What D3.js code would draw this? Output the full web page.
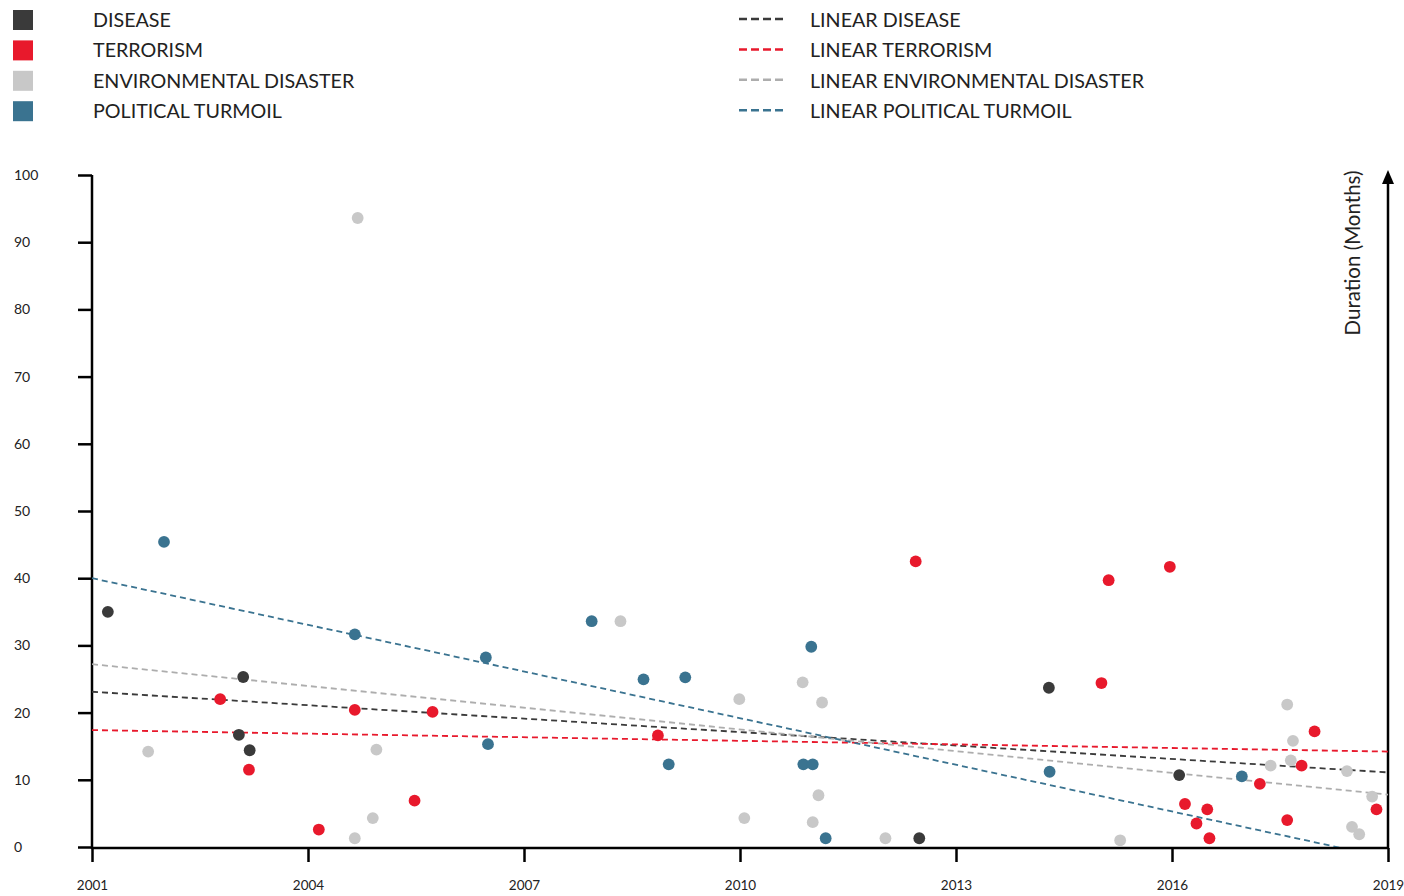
<!DOCTYPE html>
<meta charset="utf-8">
<script src="https://d3js.org/d3.v7.min.js"></script>
<style>
  body { margin: 0; background: #fff; }
  text { font-family: Lato, "Open Sans", sans-serif; }
</style>
<div id="chart"></div>
<script>

  // categories, colours
  var categories = ["DISEASE", "TERRORISM", "ENVIRONMENTAL DISASTER", "POLITICAL TURMOIL"];
  var colors = ["#3a3a3a", "#e8192c", "#c8c8c8", "#3a7390"];
  var lineColors = ["#3a3a3a", "#e8192c", "#adadad", "#3a7390"];

  // year of event (decimal) and duration in months
  var diseaseYears = [2001.22, 2003.10, 2003.04, 2003.19, 2012.49, 2014.29, 2016.10];
  var diseaseValues = [35.0, 25.3, 16.7, 14.4, 1.3, 23.7, 10.7];

  var terrorismYears = [2002.78, 2003.18, 2004.15, 2004.65, 2005.48, 2005.73, 2008.86, 2012.44, 2015.12, 2015.97,
    2015.02, 2016.18, 2016.49, 2016.34, 2016.52, 2017.22, 2017.80, 2017.98, 2017.60, 2018.84];
  var terrorismValues = [22.0, 11.5, 2.6, 20.4, 6.9, 20.1, 16.6, 42.5, 39.7, 41.7,
    24.4, 6.4, 5.6, 3.5, 1.3, 9.4, 12.1, 17.2, 4.0, 5.6];

  var environmentYears = [2001.78, 2004.95, 2004.90, 2004.65, 2004.69, 2008.34, 2009.99, 2010.06, 2010.87, 2011.14,
    2011.09, 2011.01, 2012.02, 2015.28, 2017.60, 2017.68, 2017.65, 2017.37, 2018.43, 2018.78, 2018.50, 2018.60];
  var environmentValues = [14.2, 14.5, 4.3, 1.3, 93.6, 33.6, 22.0, 4.3, 24.5, 21.5,
    7.7, 3.7, 1.3, 1.0, 21.2, 15.8, 12.9, 12.1, 11.3, 7.5, 3.0, 1.9];

  var politicalYears = [2002.00, 2004.65, 2006.47, 2006.50, 2007.94, 2008.66, 2009.24, 2009.01, 2010.99, 2010.88,
    2011.01, 2011.19, 2014.30, 2016.97];
  var politicalValues = [45.4, 31.65, 28.2, 15.3, 33.6, 24.95, 25.25, 12.3, 29.8, 12.3,
    12.3, 1.3, 11.2, 10.5];

  // linear trend lines: value at 2001 and at 2019
  var trendStart = [23.1, 17.4, 27.2, 40.0];
  var trendEnd = [11.1, 14.2, 7.8, -1.65];

  var yearTicks = [2001, 2004, 2007, 2010, 2013, 2016, 2019];
  var valueTicks = [0, 10, 20, 30, 40, 50, 60, 70, 80, 90, 100];

  var seriesYears = [diseaseYears, terrorismYears, environmentYears, politicalYears];
  var seriesValues = [diseaseValues, terrorismValues, environmentValues, politicalValues];

  var width = 1404, height = 896;
  var svg = d3.select("#chart").append("svg")
    .attr("width", width)
    .attr("height", height);

  var x = d3.scaleLinear().domain([2001, 2019]).range([92, 1388]);
  var y = d3.scaleLinear().domain([0, 100]).range([847, 175]);

  // legend - markers
  var legend1 = svg.append("g");
  categories.forEach(function (c, i) {
    legend1.append("rect")
      .attr("x", 13).attr("y", 10 + i * 30.4)
      .attr("width", 20).attr("height", 20)
      .attr("fill", colors[i]);
    legend1.append("text")
      .attr("x", 93).attr("y", 27 + i * 30.4)
      .attr("font-size", 19.7)
      .attr("fill", "#222")
      .text(c);
  });

  // legend - trend lines
  var legend2 = svg.append("g");
  categories.forEach(function (c, i) {
    legend2.append("line")
      .attr("x1", 739).attr("x2", 784)
      .attr("y1", 19 + i * 30.4).attr("y2", 19 + i * 30.4)
      .attr("stroke", lineColors[i])
      .attr("stroke-width", 2.5)
      .attr("stroke-dasharray", "8,4");
    legend2.append("text")
      .attr("x", 810).attr("y", 27 + i * 30.4)
      .attr("font-size", 19.7)
      .attr("fill", "#222")
      .text("LINEAR " + c);
  });

  // y axis
  var yAxis = svg.append("g")
    .attr("transform", "translate(92,0)")
    .call(d3.axisLeft(y).tickValues(valueTicks).tickSize(14).tickSizeOuter(0));
  yAxis.select(".domain").remove();
  yAxis.selectAll(".tick line").attr("stroke", "#000").attr("stroke-width", 2.5);
  yAxis.selectAll(".tick text")
    .attr("x", 14 - 92)
    .attr("text-anchor", "start")
    .attr("font-size", 14)
    .attr("font-family", "Lato, sans-serif")
    .attr("fill", "#222");

  // x axis
  var xAxis = svg.append("g")
    .attr("transform", "translate(0,848)")
    .call(d3.axisBottom(x).tickValues(yearTicks).tickFormat(d3.format("d")).tickSize(14).tickSizeOuter(0).tickPadding(18));
  xAxis.select(".domain").remove();
  xAxis.selectAll(".tick line").attr("stroke", "#000").attr("stroke-width", 2.5);
  xAxis.selectAll(".tick text")
    .attr("font-size", 13.5)
    .attr("font-family", "Lato, sans-serif")
    .attr("fill", "#222");

  // axis lines
  svg.append("line").attr("x1", 92).attr("x2", 92).attr("y1", y(100)).attr("y2", 849)
    .attr("stroke", "#000").attr("stroke-width", 2.5);
  svg.append("line").attr("x1", 91).attr("x2", 1389).attr("y1", 848).attr("y2", 848)
    .attr("stroke", "#000").attr("stroke-width", 2.5);
  svg.append("line").attr("x1", 1388).attr("x2", 1388).attr("y1", 849).attr("y2", 180)
    .attr("stroke", "#000").attr("stroke-width", 2.5);
  svg.append("path")
    .attr("d", "M1382,184L1388,170L1394,184Z")
    .attr("fill", "#000");

  svg.append("text")
    .attr("transform", "translate(1360,253) rotate(-90)")
    .attr("text-anchor", "middle")
    .attr("font-size", 20.5)
    .attr("fill", "#222")
    .text("Duration (Months)");

  // trend lines
  svg.append("clipPath").attr("id", "plot")
    .append("rect").attr("x", 92).attr("y", 0).attr("width", 1296).attr("height", 847);

  var line = d3.line()
    .x(function (d) { return x(d[0]); })
    .y(function (d) { return y(d[1]); });

  var trends = svg.append("g").attr("clip-path", "url(#plot)");
  categories.forEach(function (c, i) {
    trends.append("path")
      .datum([[2001, trendStart[i]], [2019, trendEnd[i]]])
      .attr("fill", "none")
      .attr("stroke", lineColors[i])
      .attr("stroke-width", 1.8)
      .attr("stroke-dasharray", "6,4")
      .attr("d", line);
  });

  // points
  var pts = svg.append("g");
  categories.forEach(function (c, i) {
    pts.selectAll(".p" + i)
      .data(d3.range(seriesYears[i].length))
      .enter()
      .append("circle")
      .attr("cx", function (k) { return x(seriesYears[i][k]); })
      .attr("cy", function (k) { return y(seriesValues[i][k]); })
      .attr("r", 5.9)
      .attr("fill", colors[i]);
  });

</script>
